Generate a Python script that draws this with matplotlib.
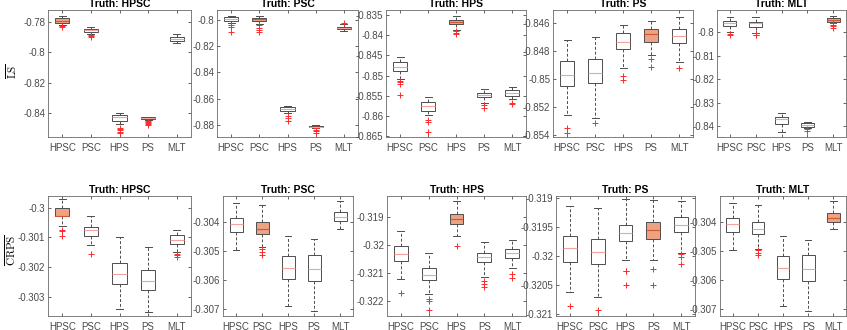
#BOXPLOTS OF LS AND CRPS SCORES FOR EACH TRUE MODEL
#Two rows (LS, CRPS), five panels each, one per truth model

#IMPORTS
import numpy as np
import matplotlib
matplotlib.use('Agg')
import matplotlib.pyplot as plt
from matplotlib.ticker import FuncFormatter

plt.rcParams['font.family'] = ['Liberation Sans', 'DejaVu Sans']
plt.rcParams['mathtext.fontset'] = 'cm'

#CATEGORIES
models = ['HPSC', 'PSC', 'HPS', 'PS', 'MLT']
truths = ['HPSC', 'PSC', 'HPS', 'PS', 'MLT']

#LS SUMMARY STATS (one row per truth panel, one value per model)
ls_hi = [[-0.7763, -0.7833, -0.8400, -0.8421, -0.7881],
         [-0.7969, -0.7967, -0.8656, -0.8803, -0.8031],
         [-0.8453, -0.8554, -0.8354, -0.8534, -0.8529],
         [-0.84719, -0.8470, -0.84612, -0.84581, -0.84553],
         [-0.79334, -0.79334, -0.83459, -0.83817, -0.7930]]
ls_q3 = [[-0.7778, -0.7848, -0.8412, -0.8423, -0.7898],
         [-0.7979, -0.7982, -0.8666, -0.8809, -0.8051],
         [-0.8466, -0.8566, -0.8362, -0.8542, -0.8536],
         [-0.84867, -0.84857, -0.84667, -0.84643, -0.84643],
         [-0.79505, -0.7956, -0.8363, -0.83886, -0.79402]]
ls_med = [[-0.7793, -0.7856, -0.8427, -0.8431, -0.7911],
          [-0.7995, -0.7995, -0.8679, -0.8814, -0.8059],
          [-0.8478, -0.8575, -0.8367, -0.8548, -0.8542],
          [-0.84969, -0.84953, -0.84731, -0.84679, -0.84691],
          [-0.79616, -0.79616, -0.8370, -0.83958, -0.79475]]
ls_q1 = [[-0.7807, -0.7870, -0.8449, -0.8438, -0.7925],
         [-0.8008, -0.8008, -0.8694, -0.8819, -0.8069],
         [-0.8488, -0.8587, -0.8373, -0.8554, -0.8550],
         [-0.85046, -0.85029, -0.84786, -0.84731, -0.84743],
         [-0.79731, -0.79761, -0.83916, -0.84031, -0.79547]]
ls_lo = [[-0.7822, -0.7883, -0.8467, -0.8445, -0.7942],
         [-0.8025, -0.8031, -0.8712, -0.8824, -0.8082],
         [-0.8509, -0.8597, -0.8387, -0.8567, -0.8559],
         [-0.85255, -0.85279, -0.84921, -0.84826, -0.84874],
         [-0.79974, -0.80017, -0.8427, -0.84099, -0.7959]]
ls_out = [[[-0.7829, -0.7833], [-0.7887, -0.7895, -0.7902],
           [-0.8495, -0.8505, -0.8512, -0.8522, -0.8532],
           [-0.8449, -0.8455, -0.8462, -0.8470, -0.8478], []],
          [[-0.8038, -0.8055, -0.8089], [-0.8040, -0.8060, -0.8075, -0.8090],
           [-0.8733, -0.8748, -0.8771], [-0.8826, -0.8836, -0.8846, -0.8860], [-0.8025]],
          [[-0.8513, -0.8517, -0.8520, -0.8548], [-0.8610, -0.8615, -0.8640],
           [-0.8391, -0.8396, -0.8397], [-0.8572, -0.8580], [-0.8567, -0.8570]],
          [[-0.8535, -0.85381], [-0.85314], [-0.84976, -0.85005],
           [-0.84857, -0.84914], [-0.84921]],
          [[-0.80085, -0.80128], [-0.80043, -0.8010, -0.80115], [],
           [-0.84129, -0.84210], [-0.79616, -0.7970, -0.7975, -0.79829]]]

#CRPS SUMMARY STATS
crps_hi = [[-0.29972, -0.30028, -0.3010, -0.30132, -0.30075],
           [-0.30334, -0.30341, -0.30449, -0.30459, -0.30326],
           [-0.31948, -0.32026, -0.31841, -0.31987, -0.31981],
           [-0.31914, -0.31917, -0.31903, -0.31904, -0.31905],
           [-0.30334, -0.3034, -0.30449, -0.3046, -0.30326]]
crps_q3 = [[-0.3000, -0.30064, -0.30185, -0.30211, -0.30092],
           [-0.30386, -0.3040, -0.30517, -0.30514, -0.30366],
           [-0.32004, -0.32082, -0.31888, -0.32026, -0.32015],
           [-0.31966, -0.31971, -0.31946, -0.31942, -0.31933],
           [-0.30386, -0.3040, -0.30518, -0.30515, -0.30366]]
crps_med = [[-0.30027, -0.30076, -0.30222, -0.30245, -0.3011],
            [-0.30407, -0.30423, -0.3056, -0.30562, -0.30383],
            [-0.32032, -0.32106, -0.31906, -0.32042, -0.32029],
            [-0.31987, -0.31993, -0.31961, -0.31956, -0.31947],
            [-0.30407, -0.30423, -0.3056, -0.30563, -0.30383]]
crps_q1 = [[-0.30029, -0.30095, -0.30256, -0.30276, -0.30123],
           [-0.30434, -0.3044, -0.30597, -0.30602, -0.30397],
           [-0.32055, -0.32126, -0.31924, -0.32061, -0.32045],
           [-0.3201, -0.32013, -0.31975, -0.3197, -0.31959],
           [-0.30434, -0.3044, -0.30598, -0.30603, -0.30397]]
crps_lo = [[-0.30063, -0.30125, -0.30341, -0.3035, -0.30148],
           [-0.30495, -0.30486, -0.30691, -0.30706, -0.30423],
           [-0.32121, -0.32176, -0.31967, -0.32114, -0.3208],
           [-0.32061, -0.3207, -0.32007, -0.32007, -0.31994],
           [-0.30495, -0.30492, -0.30692, -0.30707, -0.30423]]
crps_out = [[[-0.30074, -0.3008, -0.30094], [-0.30157], [], [], [-0.30157, -0.3016, -0.30165]],
            [[], [-0.30494, -0.30502, -0.30512], [], [], []],
            [[-0.32171], [-0.32191, -0.32198, -0.32232], [-0.32002],
             [-0.32127, -0.32137, -0.32149], [-0.32102, -0.32118]],
            [[-0.32086], [-0.32093], [-0.32025, -0.32026, -0.3205],
             [-0.32022, -0.32049], [-0.31996, -0.32001, -0.32013]],
            [[], [-0.30497, -0.30505, -0.30515], [], [], []]]

#AXIS TICKS AND LIMITS
ls_ticks = [[-0.84, -0.82, -0.8, -0.78],
            [-0.88, -0.86, -0.84, -0.82, -0.8],
            [-0.865, -0.86, -0.855, -0.85, -0.845, -0.84, -0.835],
            [-0.854, -0.852, -0.85, -0.848, -0.846],
            [-0.84, -0.83, -0.82, -0.81, -0.8]]
ls_lims = [(-0.8555, -0.7723), (-0.8893, -0.7924), (-0.8652, -0.8338),
           (-0.85412, -0.84505), (-0.8447, -0.79048)]
crps_ticks = [[-0.303, -0.302, -0.301, -0.3],
              [-0.307, -0.306, -0.305, -0.304],
              [-0.322, -0.321, -0.32, -0.319],
              [-0.321, -0.3205, -0.32, -0.3195, -0.319],
              [-0.307, -0.306, -0.305, -0.304]]
crps_lims = [(-0.30364, -0.29961), (-0.30725, -0.30309), (-0.32253, -0.31824),
             (-0.32103, -0.31897), (-0.30726, -0.30308)]

#PANEL POSITIONS (pixels, left/right edges)
W, H = 847, 330
row1_x = [(48, 191), (217, 358), (386, 526), (553, 693), (717, 846)]
row2_x = [(48, 191), (223, 353), (387, 526), (556, 695), (720, 846)]
row1_y = (10, 137)
row2_y = (196, 316)

edge = '#4d4d4d'
fill_hi = '#eca283'
med_lo = '#f4a39c'
med_hi = '#d2592f'

fig = plt.figure(figsize=(W / 100, H / 100), dpi=100)


def panel(xr, yr, hi, q3, med, q1, lo, out, ticks, lims, k):
    ax = fig.add_axes([xr[0] / W, 1 - yr[1] / H, (xr[1] - xr[0]) / W, (yr[1] - yr[0]) / H])
    stats = []
    for j in range(5):
        stats.append(dict(med=med[j], q1=q1[j], q3=q3[j], whislo=lo[j],
                          whishi=hi[j], fliers=out[j], label=models[j]))
    bp = ax.bxp(stats, positions=np.arange(1, 6), widths=0.5, capwidths=0.25,
                patch_artist=True, showfliers=True,
                boxprops=dict(facecolor='white', edgecolor=edge, linewidth=0.7),
                whiskerprops=dict(color=edge, linewidth=0.7, linestyle=(0, (3, 2))),
                capprops=dict(color=edge, linewidth=0.7),
                medianprops=dict(color=med_lo, linewidth=0.8),
                flierprops=dict(marker='+', markeredgecolor='#ff2a2a', markersize=4,
                                markeredgewidth=0.7, linestyle='none'))
    #highlight the true model
    bp['boxes'][k].set_facecolor(fill_hi)
    bp['medians'][k].set_color(med_hi)
    ax.set_xlim(0.5, 5.5)
    ax.set_ylim(lims)
    ax.set_yticks(ticks)
    ax.yaxis.set_major_formatter(FuncFormatter(lambda v, p: '%g' % round(v, 5)))
    ax.tick_params(direction='in', length=2.5, width=0.6, top=True, right=True,
                   labelsize=7, colors='#4a4a4a', pad=2)
    ax.tick_params(axis='x', pad=4)
    for s in ax.spines.values():
        s.set_color('#6a6a6a')
        s.set_linewidth(0.6)
    ax.set_title('Truth: ' + truths[k], fontsize=7.5, fontweight='bold', pad=2.5)
    return ax


for k in range(5):
    panel(row1_x[k], row1_y, ls_hi[k], ls_q3[k], ls_med[k], ls_q1[k], ls_lo[k],
          ls_out[k], ls_ticks[k], ls_lims[k], k)
    panel(row2_x[k], row2_y, crps_hi[k], crps_q3[k], crps_med[k], crps_q1[k], crps_lo[k],
          crps_out[k], crps_ticks[k], crps_lims[k], k)

#ROW LABELS
fig.text(12 / W, 1 - 71 / H, r'$\overline{\mathrm{LS}}$', rotation=90, ha='center', va='center', fontsize=8)
fig.text(11 / W, 1 - 250 / H, r'$\overline{\mathrm{CRPS}}$', rotation=90, ha='center', va='center', fontsize=8)

fig.savefig('out.png', dpi=100)
